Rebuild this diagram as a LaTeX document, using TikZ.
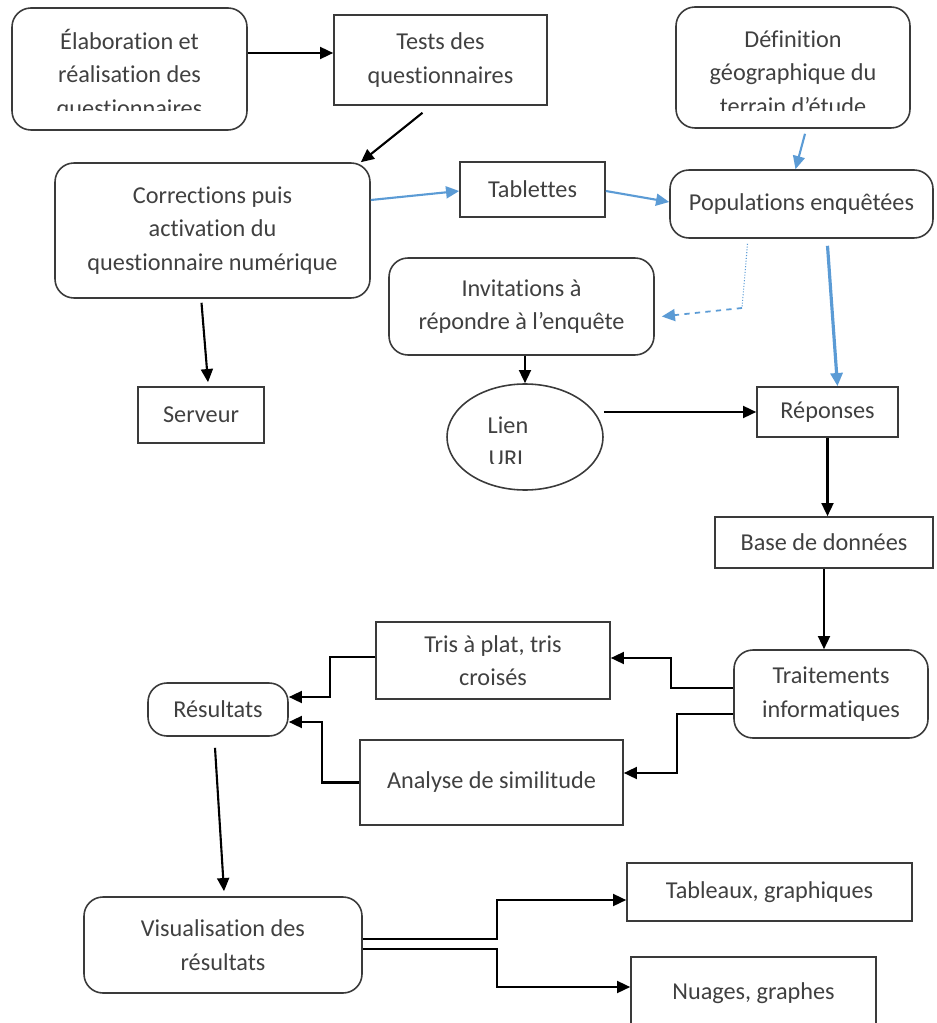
\documentclass[tikz,border=0pt]{standalone}
\usepackage{fontspec}
\setmainfont[Ligatures=NoCommon]{Carlito}
\usetikzlibrary{arrows.meta, shapes.geometric, calc}
\definecolor{inkline}{HTML}{3A3A3A}
\definecolor{inktext}{HTML}{404040}
\definecolor{flowblue}{HTML}{5B9BD5}

\begin{document}
\begin{tikzpicture}[x=0.02cm, y=-0.02cm, font=\fontsize{13.8}{19}\selectfont,
  box/.style={draw=inkline, line width=0.9pt, text=inktext, align=center, inner sep=0pt},
  rbox/.style={box, rounded corners=0.38cm},
  lbl/.style={text=inktext, align=center, inner sep=0pt},
  arr/.style={draw=black, line width=1.2pt, -{Triangle[length=7.5pt, width=6.8pt]}},
  barr/.style={draw=flowblue, line width=1.2pt, -{Triangle[length=7.5pt, width=6.8pt]}}]
  \useasboundingbox (0,0) rectangle (936,1023);

  % rounded boxes
  \foreach \nm/\cx/\cy/\w/\h/\lab in {%
      corr/212.5/230.5/315/135/{Corrections puis\\activation du\\questionnaire numérique},%
      popu/801.5/204/263/68/{Populations enquêtées},%
      invi/521.5/306.5/265/97/{Invitations à\\répondre à l’enquête},%
      trait/831/694/194/88/{Traitements\\informatiques},%
      resu/218/709.5/140/53/{Résultats},%
      visu/223/945/278/96/{Visualisation des\\résultats}}{%
    \node[rbox, minimum width=\w*0.02cm, minimum height=\h*0.02cm] (\nm) at (\cx,\cy) {\lab};}

  % plain boxes
  \foreach \nm/\cx/\cy/\w/\h/\lab in {%
      tests/440.5/60/213/90/{Tests des\\questionnaires},%
      tabl/532.5/189.5/145/55/{Tablettes},%
      serv/201/415/126/56/{Serveur},%
      repo/827.5/412/141/50/{Réponses},%
      base/824/542.5/218/51/{Base de données},%
      tris/493/660.5/234/77/{Tris à plat, tris\\croisés},%
      anal/491.5/782.5/263/85/{Analyse de similitude},%
      tabx/769.5/892/285/58/{Tableaux, graphiques},%
      nuag/753.5/993.5/245/73/{Nuages, graphes}}{%
    \node[box, minimum width=\w*0.02cm, minimum height=\h*0.02cm] (\nm) at (\cx,\cy) {\lab};}

  % boxes whose text runs out at the bottom
  \node[rbox, minimum width=235*0.02cm, minimum height=122*0.02cm] (elab) at (129.5,69) {};
  \node[rbox, minimum width=234*0.02cm, minimum height=121*0.02cm] (defi) at (793,67.5) {};
  \node[box, ellipse, minimum width=156*0.02cm, minimum height=106*0.02cm] (lien) at (525,437) {};
  \begin{scope}
    \clip (12,8) rectangle (247,111);
    \node[lbl] (elab-txt) at (129.5,74.5) {Élaboration et\\réalisation des\\questionnaires};
  \end{scope}
  \begin{scope}
    \clip (676,7) rectangle (910,111);
    \node[lbl] (defi-txt) at (793,72.5) {Définition\\géographique du\\terrain d’étude};
  \end{scope}
  \begin{scope}
    \clip (450,385) rectangle (600,463);
    \node[lbl] (lien-txt) at (508,441.5) {Lien\\URL};
  \end{scope}

  % black flow
  \draw[arr] (elab.east |- 0,53) -- (tests.west |- 0,53);
  \draw[arr] ($(tests.south)+(-18,7)$) -- ($(corr.north east)+(-10,0)$);
  \draw[arr] ($(corr.south)+(-11,4)$) -- ($(serv.north)+(7,-4)$);
  \draw[arr] (lien.north |- invi.south) -- (lien.north);
  \draw[arr] (lien.east |- repo.west) -- (repo.west);
  \draw[arr] (repo.south) -- (repo.south |- base.north);
  \draw[arr] (base.south) -- (base.south |- trait.north);
  \draw[arr] ($(trait.west)+(0,-6)$) -- ++(-62,0) |- (tris.east |- 0,658);
  \draw[arr] ($(trait.west)+(0,20)$) -- ++(-56,0) |- ($(anal.east)+(0,-9.5)$);
  \draw[arr] ($(tris.west)+(0,-3.5)$) -- ++(-45,0) |- ($(resu.east)+(0,-12.5)$);
  \draw[arr] (anal.west) -- ++(-37,0) |- ($(resu.east)+(0,12.5)$);
  \draw[arr] ($(resu.south)+(-3,11)$) -- ($(visu.north)+(1,-5)$);
  \draw[arr] ($(visu.east)+(0,-6)$) -- ++(134,0) |- (tabx.west |- 0,900);
  \draw[arr] ($(visu.east)+(0,4)$) -- ++(134,0) |- (nuag.west |- 0,987);

  % blue flow
  \draw[barr] (corr.east |- 0,200) -- (tabl.west |- 0,191);
  \draw[barr] (tabl.east |- 0,191) -- (popu.west |- 0,202);
  \draw[barr] ($(defi.south)+(12,5)$) -- ($(popu.north)+(-6,0)$);
  \draw[barr, line width=1.8pt] ($(popu.south)+(26,7)$) -- ($(repo.north)+(10,0)$);
  \coordinate (bend) at (742,308);
  \draw[flowblue, line width=0.6pt, densely dotted] ($(popu.south)+(-54,5)$) -- (bend);
  \draw[barr, line width=1pt, dashed] (bend) -- ($(invi.east)+(7,10)$);
\end{tikzpicture}
\end{document}
